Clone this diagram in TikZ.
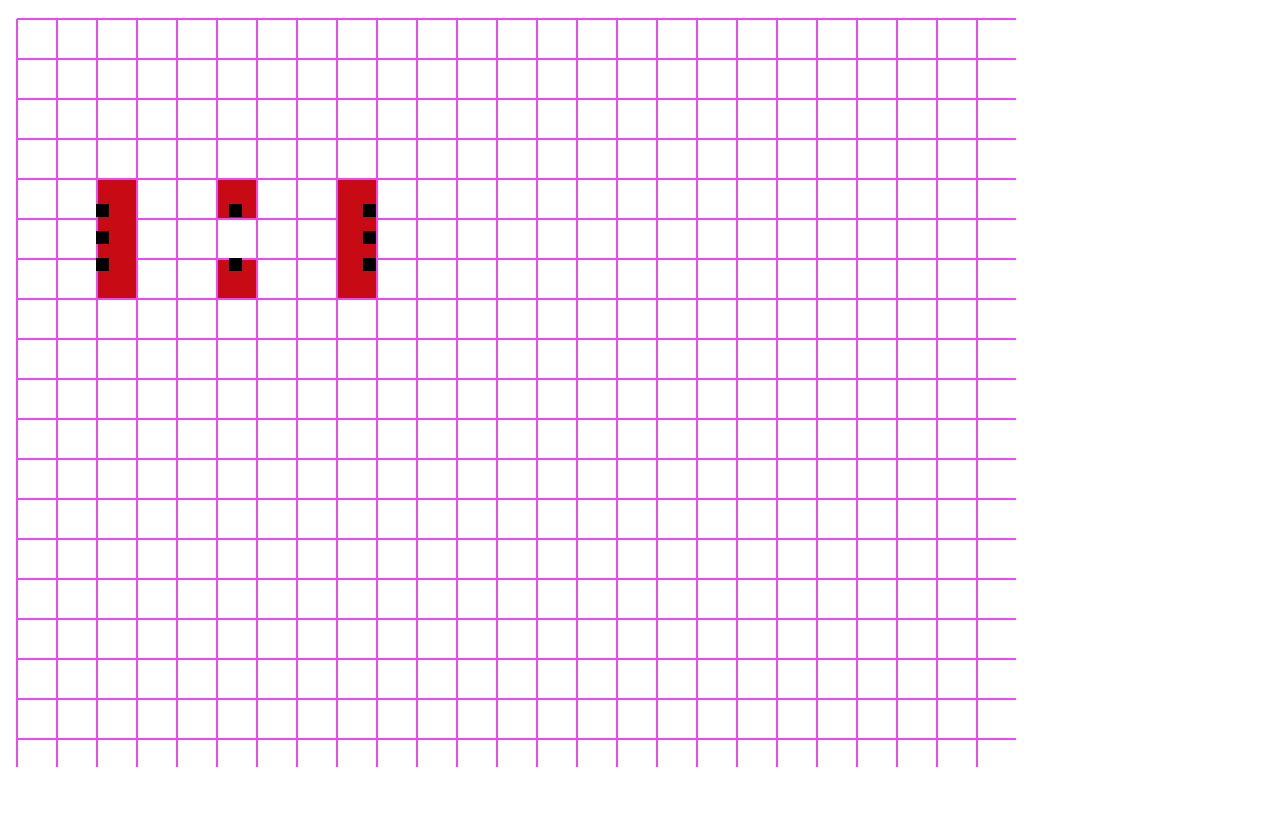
\documentclass[tikz,border=0pt]{standalone}
\usepackage{tikz}
\definecolor{GridMagenta}{RGB}{236,72,246}
\definecolor{BlockRed}{RGB}{200,10,20}
\tikzset{
	gridline/.style={draw=GridMagenta,line width=1.4pt},
	block/.style={fill=BlockRed},
	pin/.style={fill=black,minimum size=0.325cm,inner sep=0pt,outer sep=0pt},
}
\begin{document}
\begin{tikzpicture}[x=1cm,y=-1cm]
	\useasboundingbox (-0.425,-0.475) rectangle (31.675,19.925);
	% grid
	\foreach \i in {0,...,24}
		\draw[gridline] (\i,0) -- (\i,18.7);
	\foreach \j in {0,...,18}
		\draw[gridline] (0,\j) -- (24.975,\j);
	% blocks
	\fill[block] (2.025,4.025) rectangle (2.975,6.975);
	\fill[block] (5.025,4.025) rectangle (5.975,4.975);
	\fill[block] (5.025,6.025) rectangle (5.975,6.975);
	\fill[block] (8.025,4.025) rectangle (8.975,6.975);
	% pins
	\foreach \y [count=\k] in {4.79,5.46,6.14} {
		\node[pin] (l\k) at (2.14,\y) {};
		\node[pin] (r\k) at (8.81,\y) {};
	}
	\node[pin] (m1) at (5.46,4.79) {};
	\node[pin] (m2) at (5.46,6.14) {};
\end{tikzpicture}
\end{document}
